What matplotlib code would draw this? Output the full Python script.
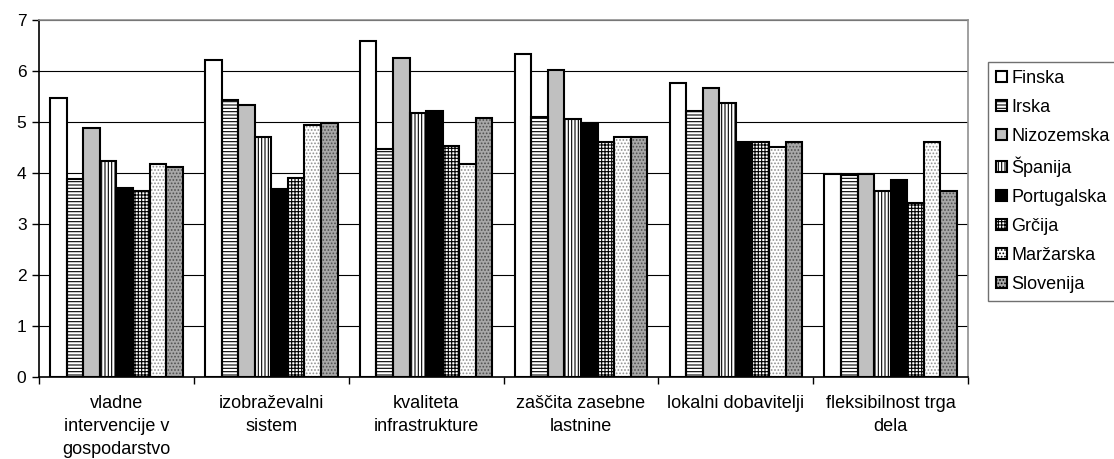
# Stolpčni diagram: primerjava držav po dejavnikih konkurenčnosti
import numpy as np
import matplotlib.pyplot as plt

plt.rcParams['font.family'] = ['Liberation Sans', 'DejaVu Sans']
plt.rcParams['hatch.linewidth'] = 0.8

# Kategorije na osi x
kategorije = ['vladne\nintervencije v\ngospodarstvo', 'izobraževalni\nsistem',
              'kvaliteta\ninfrastrukture', 'zaščita zasebne\nlastnine',
              'lokalni dobavitelji', 'fleksibilnost trga\ndela']

# Vrednosti po državah
finska = [5.47, 6.21, 6.58, 6.32, 5.76, 3.97]
irska = [3.88, 5.43, 4.46, 5.10, 5.22, 3.95]
nizozemska = [4.87, 5.33, 6.25, 6.01, 5.66, 3.97]
spanija = [4.24, 4.71, 5.18, 5.06, 5.36, 3.65]
portugalska = [3.71, 3.68, 5.21, 4.97, 4.61, 3.85]
grcija = [3.65, 3.90, 4.53, 4.61, 4.61, 3.41]
marzarska = [4.17, 4.93, 4.18, 4.71, 4.51, 4.61]
slovenija = [4.11, 4.97, 5.07, 4.71, 4.61, 3.64]

drzave = ['Finska', 'Irska', 'Nizozemska', 'Španija', 'Portugalska', 'Grčija', 'Maržarska', 'Slovenija']
vrednosti = [finska, irska, nizozemska, spanija, portugalska, grcija, marzarska, slovenija]

# Slog za posamezno serijo: (barva polnila, vzorec, barva vzorca)
slogi = [('white', None, 'black'),
         ('white', '-----', 'black'),
         ('#c0c0c0', None, 'black'),
         ('white', '|||||', 'black'),
         ('black', None, 'black'),
         ('white', '+++++', 'black'),
         ('white', '.....', '#909090'),
         ('#a8a8a8', '.....', '#505050')]

fig = plt.figure(figsize=(11.14, 4.59), dpi=100)
ax = fig.add_axes([0.035, 0.179, 0.834, 0.778])

x = np.arange(len(kategorije))
w = 0.107

for j, (ime, vals) in enumerate(zip(drzave, vrednosti)):
  fc, hatch, hc = slogi[j]
  pos = x + (j - 3.5) * w
  # polnilo in vzorec
  ax.bar(pos, vals, w, color=fc, hatch=hatch, edgecolor=hc, linewidth=0, zorder=3)
  # obroba
  ax.bar(pos, vals, w, fill=False, edgecolor='black', linewidth=1.5, zorder=4)
  # element za legendo
  ax.bar([0], [0], 0, color=fc, hatch=hatch, edgecolor='black', linewidth=1.5, label=ime)

ax.set_xlim(-0.5, 5.5)
ax.set_ylim(0, 7)
ax.set_yticks(range(8))
ax.tick_params(axis='y', labelsize=12.5, direction='out', length=5, width=1, pad=4)
ax.yaxis.grid(True, color='black', linewidth=0.8, zorder=0)
ax.set_axisbelow(True)

ax.set_xticks(x)
ax.set_xticklabels(kategorije, fontsize=13, linespacing=1.45)
ax.tick_params(axis='x', length=0, pad=13)
ax.set_xticks(np.arange(-0.5, 6.0, 1.0), minor=True)
ax.tick_params(axis='x', which='minor', length=5, width=1, direction='out')

for s in ['top', 'right']:
  ax.spines[s].set_color('#909090')
  ax.spines[s].set_linewidth(1.2)
for s in ['left', 'bottom']:
  ax.spines[s].set_color('black')
  ax.spines[s].set_linewidth(1.2)

leg = fig.legend(loc='upper left', bbox_to_anchor=(0.8866, 0.8656), fontsize=13,
                 fancybox=False, edgecolor='#707070', framealpha=1,
                 handlelength=0.6, handleheight=0.6, handletextpad=0.25,
                 labelspacing=0.66, borderaxespad=0, borderpad=0.45)
leg.get_frame().set_linewidth(1.0)

fig.savefig('out.png', dpi=100)
